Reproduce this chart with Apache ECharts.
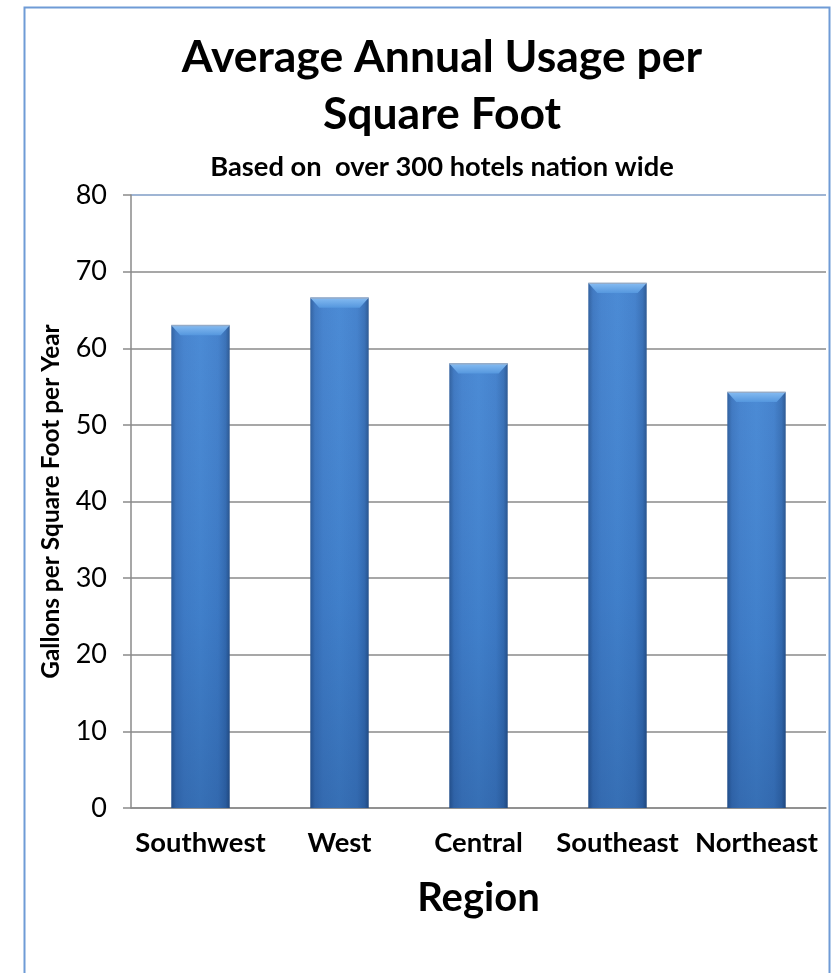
<!DOCTYPE html>
<html><head><meta charset="utf-8">
<script src="https://cdn.jsdelivr.net/npm/echarts@6/dist/echarts.min.js"></script>
<style>html,body{margin:0;padding:0;background:#fff}#c{width:836px;height:973px}</style>
</head><body><div id="c"></div>
<script>
const categories = ['Southwest', 'West', 'Central', 'Southeast', 'Northeast'];
const usage = [63.0, 66.6, 58.0, 68.5, 54.3];
const yTicks = [0, 10, 20, 30, 40, 50, 60, 70, 80];
const titleLines = ['Average Annual Usage per', 'Square Foot'];
const subtitleText = 'Based on  over 300 hotels nation wide';
const yAxisTitle = 'Gallons per Square Foot per Year';
const xAxisTitle = 'Region';

const FONT = 'Lato';
const chart = echarts.init(document.getElementById('c'), null, {renderer: 'canvas'});
const G = echarts.graphic;

function renderBar(params, api) {
  const cat = api.value(0), val = api.value(1);
  const top = api.coord([cat, val]);
  const base = api.coord([cat, 0]);
  const band = api.size([1, 0])[0];
  const w = band * 0.42;
  const x = top[0] - w / 2, y = top[1], h = base[1] - top[1];
  const bev = Math.min(10, h), inset = 9;
  return {type: 'group', children: [
    {type: 'rect', shape: {x: x, y: y, width: w, height: h},
     style: {fill: new G.LinearGradient(0, 0, 1, 0, [
       {offset: 0, color: '#2b5c9c'}, {offset: 0.08, color: '#3a75c0'},
       {offset: 0.22, color: '#4180cd'}, {offset: 0.5, color: '#4486d3'},
       {offset: 0.8, color: '#3f7ecb'}, {offset: 0.93, color: '#346db5'},
       {offset: 1, color: '#27548f'}])}},
    {type: 'rect', shape: {x: x, y: y, width: w, height: h},
     style: {fill: new G.LinearGradient(0, 0, 0, 1, [
       {offset: 0, color: 'rgba(255,255,255,0.04)'}, {offset: 0.6, color: 'rgba(0,20,60,0.06)'},
       {offset: 1, color: 'rgba(0,20,60,0.2)'}])}},
    {type: 'polygon', shape: {points: [[x, y], [x + w, y], [x + w - inset, y + bev], [x + inset, y + bev]]},
     style: {fill: new G.LinearGradient(0, 0, 0, 1, [
       {offset: 0, color: '#86bcf2'}, {offset: 1, color: '#5597de'}])}},
    {type: 'rect', shape: {x: x, y: y - 0.5, width: w, height: 1.5},
     style: {fill: 'rgba(150,170,195,0.9)'}}
  ]};
}

const splitColors = yTicks.map((t, i) => i === yTicks.length - 1 ? '#7f9cc6' : '#8a8a8a');

chart.setOption({
  animation: false,
  backgroundColor: '#ffffff',
  title: [
    {text: titleLines.join('\n'), left: 437, top: 24, textAlign: 'center',
     textStyle: {fontFamily: FONT, fontSize: 44.5, fontWeight: 'bold', color: '#000', lineHeight: 57}},
    {text: subtitleText, left: 437, top: 147, textAlign: 'center',
     textStyle: {fontFamily: FONT, fontSize: 27.3, fontWeight: 'bold', color: '#000', lineHeight: 30}}
  ],
  graphic: [{type: 'rect', left: 22, top: 5, shape: {width: 805, height: 1000},
    style: {fill: 'none', stroke: '#6f9bd6', lineWidth: 2}, z: 100}],
  grid: {left: 131, right: 10, top: 195, bottom: 165, containLabel: false},
  xAxis: {
    type: 'category', data: categories,
    axisLine: {show: true, lineStyle: {color: '#8a8a8a', width: 1.5}},
    axisTick: {show: false},
    axisLabel: {interval: 0, fontFamily: FONT, fontSize: 27.4, fontWeight: 'bold', color: '#000', margin: 22},
    name: xAxisTitle, nameLocation: 'middle', nameGap: 70,
    nameTextStyle: {fontFamily: FONT, fontSize: 40, fontWeight: 'bold', color: '#000'}
  },
  yAxis: {
    type: 'value', min: yTicks[0], max: yTicks[yTicks.length - 1], interval: yTicks[1] - yTicks[0],
    axisLine: {show: true, lineStyle: {color: '#8a8a8a', width: 1.5}},
    axisTick: {show: true, length: 8, lineStyle: {color: '#8a8a8a', width: 1.5}},
    axisLabel: {fontFamily: FONT, fontSize: 27, color: '#000', margin: 24},
    splitLine: {show: true, lineStyle: {color: splitColors, width: 1.5}},
    name: yAxisTitle, nameLocation: 'middle', nameGap: 68, nameRotate: 90,
    nameTextStyle: {fontFamily: FONT, fontSize: 24.4, fontWeight: 'bold', color: '#000'}
  },
  series: [{
    type: 'custom', renderItem: renderBar,
    data: usage.map((v, i) => [i, v]),
    encode: {x: 0, y: 1}, z: 3
  }]
});
</script></body></html>
